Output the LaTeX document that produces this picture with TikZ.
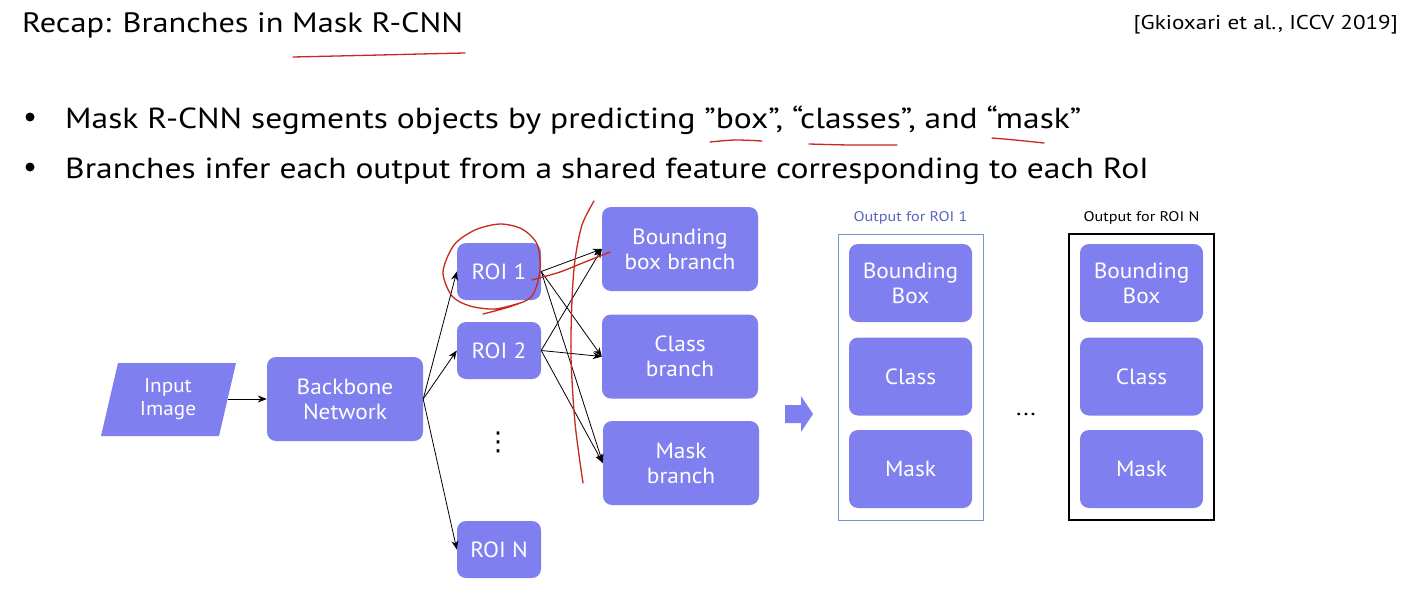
\documentclass[tikz,border=0pt]{standalone}
\usepackage{fontspec}
\setmainfont{PT Sans}[FakeStretch=1.155]
\newfontfamily\boxfont{PT Sans}[FakeStretch=1.06]
\newfontfamily\symfont{DejaVu Sans}
\usetikzlibrary{arrows.meta}
\definecolor{boxfill}{RGB}{127,127,240}
\definecolor{lblblue}{RGB}{90,102,190}
\definecolor{frameblue}{RGB}{120,150,205}
\definecolor{pen}{RGB}{200,40,30}
\tikzset{
  box/.style={fill=boxfill, rounded corners=9pt, text=white, align=center,
    font=\boxfont\fontsize{22}{25}\selectfont, inner sep=0pt},
  roibox/.style={box, minimum width=84pt, minimum height=57pt},
  bigbox/.style={box, minimum width=156pt, minimum height=84pt},
  outbox/.style={box, minimum width=123pt, minimum height=78pt},
  arr/.style={-{Stealth[length=9pt,width=7pt]}, line width=0.8pt},
  ink/.style={draw=pen, line width=1.3pt, line cap=round},
  bul/.style={font=\fontsize{29}{34}\selectfont, anchor=base west, inner sep=0pt},
}
\begin{document}
\begin{tikzpicture}[x=1pt,y=-1pt]
\useasboundingbox (0,0) rectangle (1410,610);
\fill[white] (0,0) rectangle (1410,610);
% header
\node[font=\fontsize{28}{32}\selectfont, anchor=base west, inner sep=0pt] (title) at (22,33) {Recap: Branches in Mask R-CNN};
\node[font=\fontsize{20}{24}\selectfont, anchor=base east, inner sep=0pt] (cite) at (1398,30) {[Gkioxari et al., ICCV 2019]};
\fill (30,117) circle (4.5);
\fill (30,167) circle (4.5);
\node[bul] (b1) at (65,128) {Mask R-CNN segments objects by predicting "box”, “classes”, and “mask”};
\node[bul] (b2) at (65,178) {Branches infer each output from a shared feature corresponding to each RoI};
% input
\fill[boxfill] (101,436) -- (118,363) -- (236,363) -- (219,436) -- cycle;
\node[text=white, align=center, font=\boxfont\fontsize{20}{23}\selectfont] (inp) at (168,399) {Input\\Image};
\coordinate (inpR) at (228,399);
\node[bigbox] (bb) at (345,399) {Backbone\\Network};
\node[roibox] (r1) at (499,271.5) {ROI 1};
\node[roibox] (r2) at (499,350.5) {ROI 2};
\node[roibox] (rn) at (499,549.5) {ROI N};
\node[font=\symfont\fontsize{26}{30}\selectfont, inner sep=0pt] (vd) at (498,442) {⋮};
\node[bigbox] (bbox) at (680,249) {Bounding\\box branch};
\node[bigbox] (cls) at (680,356.5) {Class\\branch};
\node[bigbox] (msk) at (681,463) {Mask\\branch};
\draw[arr] (inpR) -- (bb.west);
\foreach \t in {r1,r2,rn} \draw[arr] (bb.east) -- (\t.west);
\foreach \s in {r1,r2} \foreach \t in {bbox,cls,msk} \draw[arr] (\s.east) -- (\t.west);
% block arrow
\fill[boxfill] (785,405) -- (801,405) -- (801,396) -- (813,414) -- (801,432) -- (801,423) -- (785,423) -- cycle;
% outputs
\draw[frameblue, line width=1pt] (838,234) rectangle (983,520);
\draw[black, line width=1.2pt] (1069,234) rectangle (1214,520);
\node[text=lblblue, font=\fontsize{14}{16}\selectfont] (l1) at (910.5,218) {Output for ROI 1};
\node[font=\fontsize{14}{16}\selectfont] (l2) at (1141.5,218) {Output for ROI N};
\node[outbox] (o1b) at (910.5,283) {Bounding\\Box};
\node[outbox] (o1c) at (910.5,376.5) {Class};
\node[outbox] (o1m) at (910.5,469) {Mask};
\node[outbox] (onb) at (1141.5,283) {Bounding\\Box};
\node[outbox] (onc) at (1141.5,376.5) {Class};
\node[outbox] (onm) at (1141.5,469) {Mask};
\node[font=\fontsize{22}{26}\selectfont] (dots) at (1026,414) {...};
% handwritten red marks
\draw[ink] plot[smooth] coordinates {(293,57) (380,55) (420,54) (465,53)};
\draw[ink] plot[smooth] coordinates {(710,142) (735,140) (762,141)};
\draw[ink] plot[smooth] coordinates {(809,144) (850,145) (897,145)};
\draw[ink] plot[smooth] coordinates {(992,138) (1015,140) (1044,143)};
\draw[ink] plot[smooth] coordinates {(483,314) (512,306) (532,296) (540,270) (537,244) (522,229) (500,224) (475,230) (454,245) (443,272) (452,296) (470,306) (495,309) (520,303)};
\draw[ink] plot[smooth] coordinates {(532,280) (560,272) (585,262) (610,252)};
\draw[ink] plot[smooth] coordinates {(594,201) (582,225) (575,260) (572,300) (571,357) (575,423) (583,483)};
\end{tikzpicture}
\end{document}
